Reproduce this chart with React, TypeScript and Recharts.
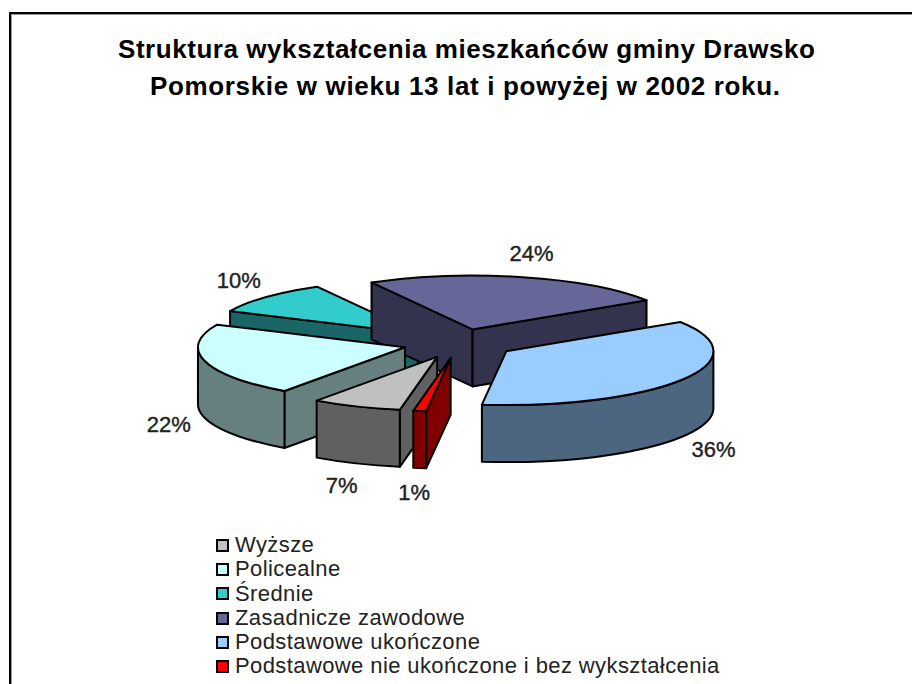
import React from "react";
import { PieChart, Pie, Legend } from "recharts";

const categories = [
  "Wyższe",
  "Policealne",
  "Średnie",
  "Zasadnicze zawodowe",
  "Podstawowe ukończone",
  "Podstawowe nie ukończone i bez wykształcenia",
];
const shares = [7, 22, 10, 24, 36, 1];
const topColors = ["#C0C0C0", "#CCFFFF", "#33CCCC", "#666699", "#99CCFF", "#FF0000"];
const wallColors = ["#606060", "#668080", "#1A6666", "#33334D", "#4D6680", "#800000"];
// back to front, the slices overlap each other
const drawOrder = [2, 3, 1, 0, 5, 4];
const titleLines = [
  "Struktura wykształcenia mieszkańców gminy Drawsko",
  "Pomorskie w wieku 13 lat i powyżej w 2002 roku.",
];

const data = categories.map((name, i) => ({ name, value: shares[i] }));

const FONT = '"Liberation Sans", Arial, sans-serif';
const SQUASH = 0.26; // tilt of the pie, ry = rx * SQUASH
const EXPLODE = 0.27;
const DEPTH = 57;
const RAD = Math.PI / 180;

function ellipsePoint(cx: number, cy: number, r: number, angle: number) {
  return {
    x: cx + r * Math.cos(angle * RAD),
    y: cy - r * SQUASH * Math.sin(angle * RAD),
  };
}

// recharts hands over a flat sector, we project it to a tilted 3d wedge
function Wedge3D(props: any) {
  const { cx, cy, outerRadius: r, startAngle, endAngle, midAngle } = props;
  const idx = categories.indexOf(props.name);
  const apex = ellipsePoint(cx, cy, r * EXPLODE, midAngle);
  const a = ellipsePoint(apex.x, apex.y, r, startAngle);
  const b = ellipsePoint(apex.x, apex.y, r, endAngle);
  const ry = r * SQUASH;
  const stroke = { stroke: "#000", strokeWidth: 2, strokeLinejoin: "round" as const };

  const radial = (p: { x: number; y: number }) =>
    `M${apex.x},${apex.y} L${p.x},${p.y} L${p.x},${p.y + DEPTH} L${apex.x},${apex.y + DEPTH} Z`;

  // angles run clockwise, so these cuts face the viewer only on these sides
  const showStart = Math.cos(startAngle * RAD) < 0;
  const showEnd = Math.cos(endAngle * RAD) > 0;

  // only the part of the rim facing the viewer gets a wall
  const rims: string[] = [];
  const hi = Math.max(startAngle, endAngle);
  const lo = Math.min(startAngle, endAngle);
  for (const k of [0, -360, -720]) {
    const from = Math.min(hi, k);
    const to = Math.max(lo, k - 180);
    if (from > to) {
      const p = ellipsePoint(apex.x, apex.y, r, from);
      const q = ellipsePoint(apex.x, apex.y, r, to);
      rims.push(
        `M${p.x},${p.y} A${r},${ry} 0 0 1 ${q.x},${q.y} L${q.x},${q.y + DEPTH} A${r},${ry} 0 0 0 ${p.x},${p.y + DEPTH} Z`
      );
    }
  }

  const large = Math.abs(startAngle - endAngle) > 180 ? 1 : 0;
  return (
    <g>
      {showStart && <path d={radial(a)} fill={wallColors[idx]} {...stroke} />}
      {showEnd && <path d={radial(b)} fill={wallColors[idx]} {...stroke} />}
      {rims.map((d) => (
        <path key={d} d={d} fill={wallColors[idx]} {...stroke} />
      ))}
      <path
        d={`M${apex.x},${apex.y} L${a.x},${a.y} A${r},${ry} 0 ${large} 1 ${b.x},${b.y} Z`}
        fill={topColors[idx]}
        {...stroke}
      />
    </g>
  );
}

function percentLabel(props: any) {
  const { cx, cy, outerRadius: r, midAngle, percent } = props;
  const below = Math.sin(midAngle * RAD) < 0;
  const x = cx + 1.45 * r * Math.cos(midAngle * RAD);
  const y = cy - 1.72 * r * SQUASH * Math.sin(midAngle * RAD) + (below ? DEPTH : 0);
  return (
    <text
      x={x}
      y={y}
      textAnchor="middle"
      dominantBaseline="central"
      fontFamily={FONT}
      fontSize={22}
      fill="#222"
      stroke="#222"
      strokeWidth={0.4}
    >
      {Math.round(percent * 100)}%
    </text>
  );
}

function LegendBox() {
  return (
    <div style={{ fontFamily: FONT, fontSize: 22, letterSpacing: 0.4, color: "#222", lineHeight: "24.3px" }}>
      {categories.map((name, i) => (
        <div key={name} style={{ display: "flex", alignItems: "center", whiteSpace: "nowrap" }}>
          <span
            style={{
              width: 9,
              height: 9,
              border: "2px solid #000",
              background: topColors[i],
              marginRight: 6,
              display: "inline-block",
            }}
          />
          {name}
        </div>
      ))}
    </div>
  );
}

export default function App() {
  return (
    <div style={{ position: "absolute", left: 0, top: 0, width: 912, height: 684, overflow: "hidden" }}>
      <div
        style={{
          position: "absolute",
          left: 9,
          top: 12,
          width: 903,
          height: 672,
          borderLeft: "2px solid #000",
          borderTop: "2px solid #000",
        }}
      >
        <div style={{ width: "100%", height: "100%", borderLeft: "1px solid #999", borderTop: "1px solid #999" }} />
      </div>
      <PieChart
        width={912}
        height={684}
        margin={{ top: 0, right: 0, bottom: 0, left: 0 }}
        style={{ position: "absolute", left: 0, top: 0 }}
      >
        <text
          x={466.5}
          y={58}
          textAnchor="middle"
          fontFamily={FONT}
          fontWeight="bold"
          fontSize={26}
          fill="#000"
          textLength={697}
        >
          {titleLines[0]}
        </text>
        <text
          x={465}
          y={95}
          textAnchor="middle"
          fontFamily={FONT}
          fontWeight="bold"
          fontSize={26}
          fill="#000"
          textLength={630}
        >
          {titleLines[1]}
        </text>
        {drawOrder.map((layer) => (
          <Pie
            key={layer}
            data={data}
            dataKey="value"
            nameKey="name"
            cx={459}
            cy={343.5}
            innerRadius={0}
            outerRadius={207}
            startAngle={-100.4}
            endAngle={-460.4}
            stroke="none"
            isAnimationActive={false}
            label={(p: any) => (p.index === layer ? percentLabel(p) : null)}
            labelLine={false}
            legendType="none"
            shape={(p: any) => (p.index === layer ? <Wedge3D {...p} /> : <g />)}
          />
        ))}
        <Legend
          layout="vertical"
          align="center"
          verticalAlign="middle"
          wrapperStyle={{ left: 216, top: 533, width: 600 }}
          content={() => <LegendBox />}
        />
      </PieChart>
    </div>
  );
}
